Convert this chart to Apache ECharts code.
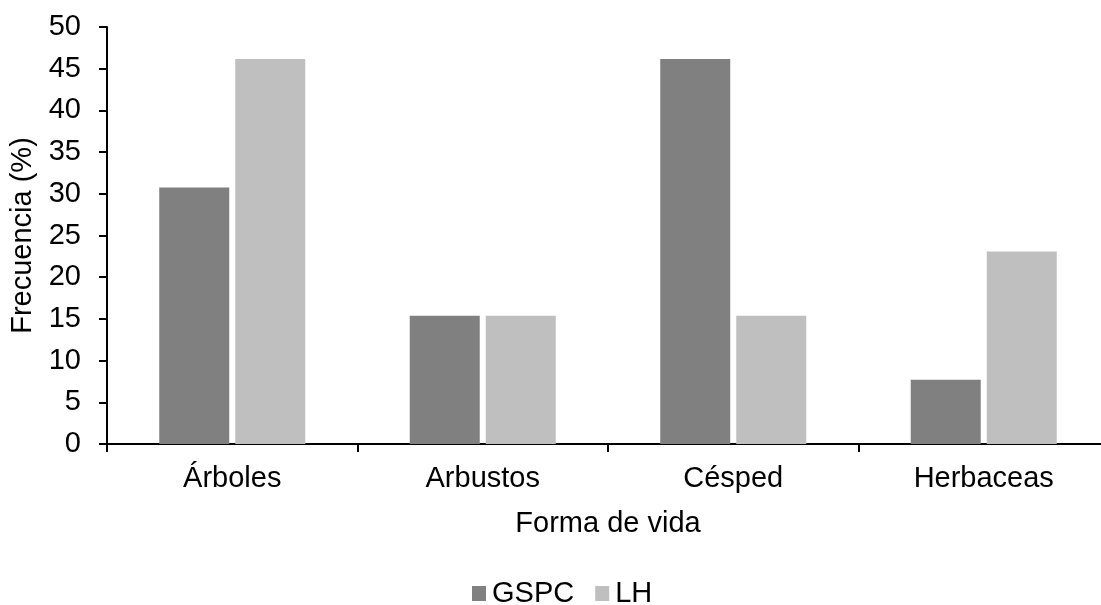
<!DOCTYPE html>
<html><head><meta charset="utf-8">
<script src="https://cdn.jsdelivr.net/npm/echarts@6/dist/echarts.min.js"></script>
<style>html,body{margin:0;padding:0;background:#fff}#c{width:1101px;height:605px}</style>
</head><body><div id="c"></div>
<script>
const categories = ['Árboles', 'Arbustos', 'Césped', 'Herbaceas'];
const gspc = [30.77, 15.38, 46.15, 7.69];
const lh = [46.15, 15.38, 15.38, 23.08];
const yTicks = [0, 5, 10, 15, 20, 25, 30, 35, 40, 45, 50];

const font = 'Liberation Sans, Arial, sans-serif';
const chart = echarts.init(document.getElementById('c'));
chart.setOption({
  animation: false,
  textStyle: {fontFamily: font},
  grid: {left: 107, top: 27, width: 1002, height: 417, containLabel: false, outerBoundsMode: 'none'},
  legend: {
    top: 574, left: 467, itemWidth: 14, itemHeight: 15, itemGap: 21,
    icon: 'rect',
    textStyle: {fontFamily: font, fontSize: 29, color: '#000', padding: [0,0,0,1]},
    data: ['GSPC', 'LH']
  },
  xAxis: {
    type: 'category', data: categories,
    name: 'Forma de vida', nameLocation: 'middle', nameGap: 65,
    nameTextStyle: {fontFamily: font, fontSize: 29, color: '#000'},
    axisLine: {lineStyle: {color: '#000', width: 2}},
    axisTick: {show: true, length: 8, lineStyle: {color: '#000', width: 2}},
    axisLabel: {fontFamily: font, fontSize: 29, color: '#000', margin: 20}
  },
  yAxis: {
    type: 'value', min: yTicks[0], max: yTicks[yTicks.length-1], interval: 5,
    name: 'Frecuencia (%)', nameLocation: 'middle', nameGap: 69, nameRotate: 90,
    nameTextStyle: {fontFamily: font, fontSize: 29, color: '#000'},
    axisLine: {show: true, lineStyle: {color: '#000', width: 2}},
    axisTick: {show: true, length: 8, lineStyle: {color: '#000', width: 2}},
    axisLabel: {fontFamily: font, fontSize: 29, color: '#000', margin: 26},
    splitLine: {show: false}
  },
  series: [
    {name: 'GSPC', type: 'bar', data: gspc, barWidth: 70, barGap: '8.6%',
     itemStyle: {color: '#808080'}},
    {name: 'LH', type: 'bar', data: lh, barWidth: 70,
     itemStyle: {color: '#bfbfbf'}}
  ]
});
</script></body></html>
